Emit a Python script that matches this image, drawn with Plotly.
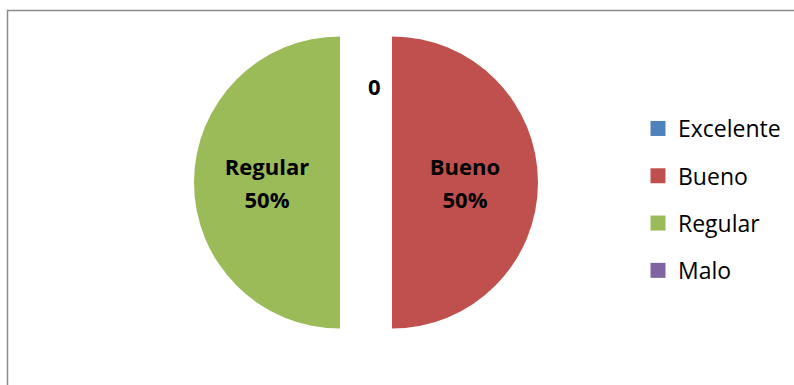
import plotly.graph_objects as go

categories = ["Excelente", "Bueno", "Regular", "Malo"]
values = [0, 50, 50, 0]
colors = ["#4F81BD", "#C0504D", "#9BBB59", "#8064A2"]
pulls = [0, 0.178, 0.178, 0]

W, H = 794, 385

fig = go.Figure()

fig.add_trace(go.Pie(
    labels=categories,
    values=values,
    marker=dict(colors=colors, line=dict(width=0)),
    sort=False,
    direction="clockwise",
    rotation=0,
    pull=pulls,
    showlegend=False,
    textinfo="label+percent",
    texttemplate="<span style='font-size:22px'><b>%{label}</b></span><br><span style='font-size:22px'><b>%{percent:.0%}</b></span>",
    textposition="inside",
    insidetextorientation="horizontal",
    textfont=dict(family="Open Sans", size=25, color="black"),
    domain=dict(x=[194 / W, 538 / W], y=[30.5 / H, 374.5 / H]),
    hoverinfo="skip",
))

# legend entries (square markers) for each category
for cat, col in zip(categories, colors):
    fig.add_trace(go.Scatter(
        x=[None], y=[None], mode="markers", name=cat, legendgroup=cat,
        marker=dict(symbol="square", size=15, color=col),
        showlegend=True,
    ))

# label for zero-valued slice shown at the top
fig.add_annotation(
    x=374 / W, y=1 - 86 / H, xref="paper", yref="paper",
    xanchor="center", yanchor="middle",
    text="<b>%d</b>" % values[0], showarrow=False,
    font=dict(family="Open Sans", size=22, color="black"),
)

fig.add_shape(
    type="rect", xref="paper", yref="paper",
    x0=7.5 / W, x1=1.02, y0=-0.02, y1=1 - 10.5 / H,
    line=dict(color="#8C8C8C", width=1.5), fillcolor="rgba(0,0,0,0)",
)

fig.update_layout(
    width=W, height=H,
    margin=dict(l=0, r=0, t=0, b=0),
    paper_bgcolor="white", plot_bgcolor="white",
    xaxis=dict(visible=False), yaxis=dict(visible=False),
    showlegend=True,
    legend=dict(
        x=638 / W, y=1 - 107 / H, xanchor="left", yanchor="top",
        font=dict(family="Open Sans", size=23, color="black"),
        tracegroupgap=14.4, bgcolor="rgba(0,0,0,0)",
        itemclick=False, itemdoubleclick=False,
    ),
)

fig.write_html("out.html")
